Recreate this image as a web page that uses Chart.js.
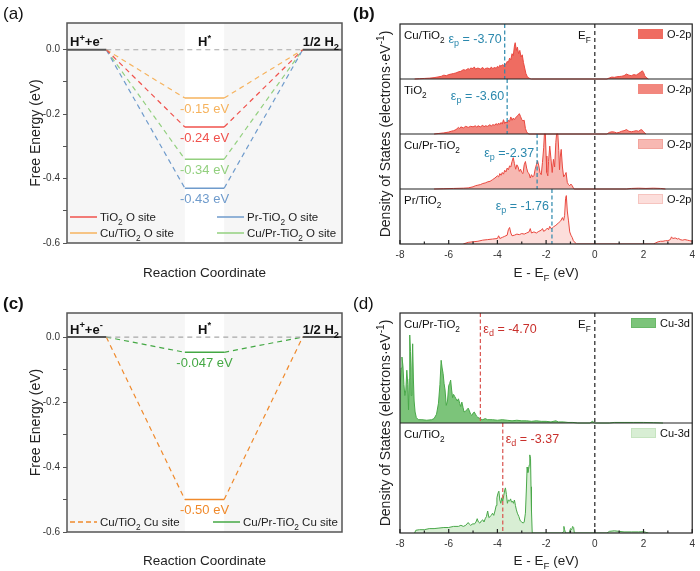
<!DOCTYPE html>
<html>
<head>
<meta charset="utf-8">
<script src="https://cdn.jsdelivr.net/npm/chart.js@4.4.1/dist/chart.umd.min.js"></script>
<style>
html, body { margin: 0; padding: 0; background: #fff; }
#fig { position: relative; width: 700px; height: 571px; overflow: hidden; }
#fig canvas { position: absolute; }
</style>
</head>
<body>
<div id="fig">
  <canvas id="panelA" width="350" height="290" style="left:0;top:0"></canvas>
  <canvas id="panelB" width="350" height="290" style="left:350px;top:0"></canvas>
  <canvas id="panelC" width="350" height="281" style="left:0;top:290px"></canvas>
  <canvas id="panelD" width="350" height="281" style="left:350px;top:290px"></canvas>
</div>
<script>
const FONT = "'Liberation Sans', Arial, Helvetica, sans-serif";

// ---- free energy diagrams (a) and (c)
const pathX = [0, 1, 3, 4, 6, 7];   // H+ + e-  |  H*  |  1/2 H2
const stateNames = ['H^{+}+e^{-}', 'H^{*}', '1/2 H_{2}'];
const freeEnergyTicks = [-0.6, -0.5, -0.4, -0.3, -0.2, -0.1, 0];

const oSiteNames = ['TiO_{2} O site', 'Cu/TiO_{2} O site', 'Pr-TiO_{2} O site', 'Cu/Pr-TiO_{2} O site'];
const oSiteDeltaG = [-0.24, -0.15, -0.43, -0.34];
const oSiteLabels = ['-0.24 eV', '-0.15 eV', '-0.43 eV', '-0.34 eV'];
const oSiteColors = ['#f0524d', '#f6b35e', '#6f9bcc', '#93d07f'];

const cuSiteNames = ['Cu/TiO_{2} Cu site', 'Cu/Pr-TiO_{2} Cu site'];
const cuSiteDeltaG = [-0.50, -0.047];
const cuSiteLabels = ['-0.50 eV', '-0.047 eV'];
const cuSiteColors = ['#f08a2c', '#44a844'];

// ---- DOS panels (b) and (d), [E - EF, DOS] in arbitrary units (0-10 per strip)
const dosTicks = [-8, -7, -6, -5, -4, -3, -2, -1, 0, 1, 2, 3, 4];

const dosCuTiO2_O2p = [[-7.4,0],[-7.2,0.05],[-7.0,0.1],[-6.8,0.15],[-6.6,0.25],[-6.4,0.4],[-6.3,0.5],[-6.2,0.7],[-6.1,0.6],[-6.0,0.8],
  [-5.9,0.9],[-5.8,1.0],[-5.7,1.1],[-5.6,1.3],[-5.5,1.4],[-5.4,1.7],[-5.3,1.6],[-5.2,1.9],[-5.15,1.7],[-5.1,2.0],[-5.0,1.9],
  [-4.95,2.2],[-4.9,1.8],[-4.8,2.0],[-4.7,1.8],[-4.6,2.1],[-4.55,1.7],[-4.5,1.9],[-4.4,2.0],[-4.3,1.8],[-4.25,2.2],[-4.2,1.9],
  [-4.1,2.1],[-4.05,1.9],[-4.0,2.3],[-3.95,2.1],[-3.9,2.5],[-3.85,2.3],[-3.8,2.6],[-3.75,2.4],[-3.7,2.8],[-3.65,2.6],[-3.6,3.2],
  [-3.55,3.0],[-3.5,3.8],[-3.45,3.5],[-3.4,4.6],[-3.35,4.2],[-3.3,6.0],[-3.27,6.6],[-3.22,5.2],[-3.18,5.8],[-3.13,4.6],[-3.08,5.2],
  [-3.03,4.0],[-2.98,4.4],[-2.93,3.0],[-2.88,2.0],[-2.83,1.0],[-2.78,0.5],[-2.72,0.2],[-2.65,0.05],[-2.6,0],
  [0.5,0],[0.6,0.2],[0.7,0.35],[0.8,0.3],[0.9,0.4],[1.0,0.45],[1.1,0.5],[1.2,0.6],[1.3,0.9],[1.4,0.7],[1.5,0.6],[1.6,0.8],
  [1.7,0.7],[1.8,1.0],[1.9,1.3],[1.95,1.5],[2.0,1.2],[2.05,0.6],[2.1,0.3],[2.2,0]];

const dosTiO2_O2p = [[-6.6,0],[-6.4,0.1],[-6.2,0.2],[-6.0,0.35],[-5.9,0.5],[-5.8,0.6],[-5.7,0.8],[-5.6,1.2],[-5.55,1.0],[-5.5,1.3],
  [-5.4,1.1],[-5.3,1.4],[-5.2,1.2],[-5.1,1.4],[-5.0,1.3],[-4.9,1.5],[-4.85,1.2],[-4.8,1.5],[-4.7,1.3],[-4.6,1.6],[-4.55,1.3],
  [-4.5,1.5],[-4.4,1.4],[-4.3,1.7],[-4.25,1.4],[-4.2,1.7],[-4.1,1.6],[-4.05,1.9],[-4.0,1.6],[-3.95,2.0],[-3.9,1.7],[-3.85,2.1],
  [-3.8,1.8],[-3.75,2.6],[-3.7,1.9],[-3.65,2.2],[-3.6,2.0],[-3.55,2.5],[-3.5,2.3],[-3.45,3.1],[-3.4,2.5],[-3.35,2.9],[-3.3,2.6],
  [-3.25,3.0],[-3.2,3.2],[-3.15,3.4],[-3.1,3.7],[-3.05,3.2],[-3.0,2.6],[-2.95,2.4],[-2.9,2.5],[-2.85,1.0],[-2.8,0.4],[-2.75,0.1],[-2.7,0],
  [0.5,0],[0.6,0.3],[0.7,0.4],[0.8,0.35],[0.9,0.2],[1.0,0.3],[1.1,0.5],[1.2,0.6],[1.3,0.8],[1.4,0.5],[1.5,0.4],[1.6,0.5],
  [1.7,0.6],[1.8,0.5],[1.9,0.8],[1.95,0.7],[2.0,0.4],[2.1,0]];

const dosCuPrTiO2_O2p = [[-6.6,0],[-6.2,0.05],[-5.8,0.1],[-5.4,0.15],[-5.2,0.2],[-5.0,0.4],[-4.9,0.6],[-4.8,0.7],[-4.7,0.8],[-4.6,1.0],
  [-4.5,1.1],[-4.4,1.3],[-4.3,1.4],[-4.2,1.7],[-4.1,2.0],[-4.0,2.4],[-3.95,2.2],[-3.9,2.8],[-3.85,2.5],[-3.8,3.0],[-3.75,2.7],
  [-3.7,3.4],[-3.65,3.1],[-3.6,3.8],[-3.55,3.5],[-3.5,4.2],[-3.45,4.0],[-3.4,5.0],[-3.35,5.7],[-3.3,4.6],[-3.25,3.6],[-3.2,4.4],
  [-3.15,4.0],[-3.1,3.2],[-3.05,3.6],[-3.0,3.0],[-2.95,2.8],[-2.9,4.4],[-2.85,5.0],[-2.8,3.8],[-2.75,3.0],[-2.7,2.8],[-2.65,2.0],
  [-2.6,2.6],[-2.55,2.2],[-2.5,2.4],[-2.45,3.6],[-2.4,4.4],[-2.35,5.1],[-2.3,4.2],[-2.25,3.0],[-2.2,2.6],[-2.15,4.8],[-2.1,7.5],
  [-2.07,10],[-2.03,10],[-2.0,6.0],[-1.97,3.0],[-1.93,2.4],[-1.9,5.0],[-1.85,7.8],[-1.8,5.5],[-1.75,3.0],[-1.7,5.4],[-1.65,4.0],
  [-1.6,8.5],[-1.57,10],[-1.52,10],[-1.48,7.0],[-1.45,3.5],[-1.42,5.8],[-1.38,7.2],[-1.33,4.0],[-1.28,2.2],[-1.22,2.6],[-1.18,3.0],
  [-1.13,1.2],[-1.08,0.8],[-1.03,0.6],[-0.98,0.9],[-0.93,0.6],[-0.88,0.2],[-0.85,0],
  [1.3,0],[1.5,0.1],[1.8,0.15],[2.1,0.1],[2.4,0.15],[2.7,0.1],[2.9,0]];

const dosPrTiO2_O2p = [[-5.4,0],[-5.2,0.3],[-5.0,0.4],[-4.8,0.5],[-4.6,0.7],[-4.4,0.8],[-4.2,0.9],[-4.0,1.0],[-3.95,1.5],[-3.9,1.0],
  [-3.8,1.2],[-3.7,1.4],[-3.6,1.6],[-3.55,2.6],[-3.5,3.0],[-3.45,2.0],[-3.4,1.5],[-3.3,1.6],[-3.2,1.8],[-3.1,1.7],[-3.0,1.9],
  [-2.9,1.8],[-2.8,2.0],[-2.7,2.2],[-2.65,2.8],[-2.6,2.0],[-2.5,2.2],[-2.4,2.0],[-2.3,2.3],[-2.2,2.5],[-2.15,2.8],[-2.1,2.3],
  [-2.0,2.6],[-1.95,2.9],[-1.9,2.6],[-1.85,3.2],[-1.8,2.8],[-1.75,2.9],[-1.7,3.1],[-1.6,3.4],[-1.5,3.8],[-1.4,4.2],[-1.33,4.8],
  [-1.28,4.3],[-1.24,5.2],[-1.2,8.3],[-1.17,8.8],[-1.13,6.0],[-1.08,4.2],[-1.03,2.2],[-0.98,1.6],[-0.93,1.2],[-0.88,0.6],[-0.8,0.2],[-0.75,0],
  [2.4,0],[2.5,0.2],[2.6,0.4],[2.7,0.5],[2.8,0.5],[2.9,0.6],[3.0,0.6],[3.1,0.8],[3.15,1.3],[3.2,1.0],[3.3,1.1],[3.4,0.9],
  [3.45,1.0],[3.5,0.8],[3.6,0.7],[3.7,0.8],[3.8,0.7],[3.9,0.6],[4.0,0.5]];

const dosCuPrTiO2_Cu3d = [[-8.0,3.0],[-7.95,5.0],[-7.92,6.0],[-7.88,5.2],[-7.84,3.5],[-7.8,2.5],[-7.76,3.0],[-7.72,4.8],[-7.68,3.5],
  [-7.65,1.2],[-7.62,4.0],[-7.6,8.0],[-7.57,6.5],[-7.54,2.5],[-7.51,5.0],[-7.48,7.2],[-7.45,4.0],[-7.42,2.0],[-7.38,1.0],[-7.33,0.5],
  [-7.25,0.3],[-7.1,0.3],[-6.9,0.25],[-6.7,0.3],[-6.6,0.4],[-6.5,0.8],[-6.42,1.8],[-6.36,3.5],[-6.31,5.7],[-6.27,5.0],[-6.23,4.5],
  [-6.19,3.6],[-6.15,3.0],[-6.1,1.6],[-6.05,2.0],[-6.0,3.4],[-5.96,3.6],[-5.92,3.9],[-5.88,3.0],[-5.84,2.3],[-5.8,2.6],[-5.75,2.4],
  [-5.7,2.2],[-5.65,2.0],[-5.6,2.2],[-5.55,1.8],[-5.51,1.5],[-5.46,1.9],[-5.41,1.4],[-5.37,1.0],[-5.3,1.1],[-5.25,1.2],[-5.2,1.35],
  [-5.15,1.1],[-5.1,0.8],[-5.05,0.7],[-5.0,0.9],[-4.95,1.0],[-4.9,0.8],[-4.85,0.6],[-4.8,0.5],[-4.75,0.45],[-4.7,0.35],[-4.6,0.3],
  [-4.5,0.4],[-4.4,0.3],[-4.2,0.3],[-4.0,0.25],[-3.8,0.3],[-3.6,0.25],[-3.4,0.2],[-3.2,0.25],[-3.0,0.2],[-2.8,0.2],[-2.6,0.15],
  [-2.4,0.2],[-2.2,0.15],[-2.0,0.15],[-1.8,0.1],[-1.6,0.2],[-1.5,0.1],[-1.3,0.1],[-1.1,0.05],[-0.9,0.05],[-0.7,0],[-0.2,0],
  [-0.1,0.15],[0.0,0],[0.6,0],[0.8,0.05],[1.2,0.05],[1.6,0.05],[2.0,0.05],[2.4,0.03],[2.8,0]];

const dosCuTiO2_Cu3d = [[-7.4,0],[-7.35,0.25],[-7.2,0.3],[-7.0,0.3],[-6.8,0.4],[-6.6,0.4],[-6.4,0.45],[-6.2,0.5],[-6.0,0.5],[-5.8,0.6],
  [-5.6,0.6],[-5.5,0.7],[-5.4,0.6],[-5.3,0.7],[-5.2,0.95],[-5.15,0.8],[-5.1,0.7],[-5.0,0.85],[-4.95,0.8],[-4.88,1.0],[-4.83,1.3],
  [-4.78,1.0],[-4.72,0.9],[-4.66,1.1],[-4.6,1.2],[-4.55,1.0],[-4.5,1.3],[-4.45,1.5],[-4.4,2.0],[-4.35,1.4],[-4.3,1.5],[-4.25,1.6],
  [-4.2,1.8],[-4.15,1.6],[-4.1,2.0],[-4.05,2.5],[-4.02,3.2],[-3.98,3.6],[-3.94,3.8],[-3.9,3.0],[-3.86,2.7],[-3.82,3.2],[-3.78,2.9],
  [-3.74,3.4],[-3.7,3.9],[-3.67,4.1],[-3.63,3.5],[-3.59,2.7],[-3.55,3.0],[-3.5,2.9],[-3.46,3.1],[-3.42,2.8],[-3.38,2.9],[-3.34,2.7],
  [-3.3,3.0],[-3.26,2.5],[-3.22,2.1],[-3.18,1.8],[-3.12,1.5],[-3.06,1.1],[-3.0,1.0],[-2.94,0.9],[-2.9,1.0],[-2.85,1.8],[-2.81,4.0],
  [-2.78,6.0],[-2.75,5.5],[-2.72,5.8],[-2.69,6.2],[-2.67,7.1],[-2.64,6.8],[-2.62,4.2],[-2.6,2.0],[-2.57,0],
  [-1.35,0],[-1.3,0.1],[-1.27,0.6],[-1.24,0.3],[-1.2,0],[-1.05,0],[-1.0,0.4],[-0.95,0.3],[-0.91,0.6],[-0.87,0.5],[-0.84,0],
  [0.5,0],[0.6,0.15],[0.8,0.2],[1.0,0.15],[1.2,0.1],[1.5,0.1],[1.8,0.1],[2.0,0.12],[2.2,0]];

const dosNamesB = ['Cu/TiO_{2}', 'TiO_{2}', 'Cu/Pr-TiO_{2}', 'Pr/TiO_{2}'];
const pBandCenter = [-3.70, -3.60, -2.37, -1.76];
const pBandLabels = ['ε_{p} = -3.70', 'ε_{p} = -3.60', 'ε_{p} =-2.37', 'ε_{p} = -1.76'];
const dosNamesD = ['Cu/Pr-TiO_{2}', 'Cu/TiO_{2}'];
const dBandLine = [-4.70, -3.78];
const dBandLabels = ['ε_{d} = -4.70', 'ε_{d} = -3.37'];

Chart.defaults.font.family = FONT;

// text with _{sub} and ^{sup} parts
function parseRich(str) {
  const parts = [];
  const re = /([_^])\{([^}]*)\}/g;
  let last = 0, m;
  while ((m = re.exec(str))) {
    if (m.index > last) parts.push({ t: str.slice(last, m.index), k: '' });
    parts.push({ t: m[2], k: m[1] });
    last = re.lastIndex;
  }
  if (last < str.length) parts.push({ t: str.slice(last), k: '' });
  return parts;
}

function drawRich(ctx, str, x, y, o) {
  const size = o.size || 12;
  const weight = o.weight || 'normal';
  const parts = parseRich(str);
  const fontFor = k => `${weight} ${k ? size * 0.72 : size}px ${FONT}`;
  let w = 0;
  parts.forEach(p => { ctx.font = fontFor(p.k); p.w = ctx.measureText(p.t).width; w += p.w; });
  ctx.save();
  ctx.translate(x, y);
  if (o.rotate) ctx.rotate(o.rotate);
  let cx = o.align === 'center' ? -w / 2 : o.align === 'right' ? -w : 0;
  ctx.fillStyle = o.color || '#222';
  ctx.textAlign = 'left';
  ctx.textBaseline = 'alphabetic';
  const base = size * 0.36;
  parts.forEach(p => {
    ctx.font = fontFor(p.k);
    const dy = p.k === '_' ? size * 0.3 : p.k === '^' ? -size * 0.42 : 0;
    ctx.fillText(p.t, cx, base + dy);
    cx += p.w;
  });
  ctx.restore();
}

function hline(ctx, x1, x2, y, color, width, dash) {
  ctx.save();
  ctx.strokeStyle = color;
  ctx.lineWidth = width;
  ctx.setLineDash(dash || []);
  ctx.beginPath();
  ctx.moveTo(x1, y);
  ctx.lineTo(x2, y);
  ctx.stroke();
  ctx.restore();
}

function vline(ctx, x, y1, y2, color, width, dash) {
  ctx.save();
  ctx.strokeStyle = color;
  ctx.lineWidth = width;
  ctx.setLineDash(dash || []);
  ctx.beginPath();
  ctx.moveTo(x, y1);
  ctx.lineTo(x, y2);
  ctx.stroke();
  ctx.restore();
}

const isEdge = c => c.p0DataIndex === 0 || c.p0DataIndex === 4;

function makeEnergyChart(id, o) {
  const datasets = [{
    data: pathX.map(x => [x, 0]),
    borderColor: '#555', borderWidth: 2, pointRadius: 0, fill: false,
    segment: {
      borderColor: c => isEdge(c) ? '#555' : '#a8a8a8',
      borderDash: c => isEdge(c) ? [] : [5, 4],
      borderWidth: c => isEdge(c) ? 2 : 1.2
    }
  }];
  o.values.forEach((v, i) => {
    datasets.push({
      data: [[pathX[1], 0], [pathX[2], v], [pathX[3], v], [pathX[4], 0]],
      borderColor: o.colors[i], borderWidth: 1.2, pointRadius: 0, fill: false,
      segment: {
        borderDash: c => c.p0DataIndex === 1 ? [] : [5, 4],
        borderWidth: c => c.p0DataIndex === 1 ? 1.6 : 1.2
      }
    });
  });

  return new Chart(document.getElementById(id), {
    type: 'line',
    data: { datasets },
    options: {
      responsive: false,
      animation: false,
      devicePixelRatio: 1,
      layout: { padding: { left: 0, right: 8, top: 23, bottom: 0 } },
      plugins: { legend: { display: false }, tooltip: { enabled: false } },
      scales: {
        x: {
          type: 'linear', min: pathX[0], max: pathX[pathX.length - 1],
          ticks: { display: false },
          grid: { display: false, drawTicks: false },
          border: { display: false },
          afterFit: s => { s.height = o.xAxisH; }
        },
        y: {
          type: 'linear', min: -0.6, max: o.top,
          afterBuildTicks: s => { s.ticks = freeEnergyTicks.map(v => ({ value: v })); },
          afterFit: s => { s.width = 67; },
          ticks: {
            callback: v => Math.round(v * 10) % 2 === 0 ? v.toFixed(1) : '',
            font: { size: 10 }, color: '#333', padding: 3
          },
          grid: { drawOnChartArea: false, tickLength: 4, color: '#555' },
          border: { display: false }
        }
      }
    },
    plugins: [{
      id: 'energyDeco',
      beforeDraw(chart) {
        const { ctx, chartArea: a, scales: { x } } = chart;
        ctx.save();
        ctx.fillStyle = '#f6f6f6';
        ctx.fillRect(a.left, a.top, a.width, a.height);
        ctx.fillStyle = '#ffffff';
        const x1 = x.getPixelForValue(pathX[2]), x2 = x.getPixelForValue(pathX[3]);
        ctx.fillRect(x1, a.top, x2 - x1, a.height);
        ctx.restore();
      },
      afterDraw(chart) {
        const { ctx, chartArea: a, scales: { x, y } } = chart;
        ctx.save();
        ctx.strokeStyle = '#555';
        ctx.lineWidth = 1.5;
        ctx.strokeRect(a.left, a.top, a.width, a.height);
        ctx.restore();

        const sy = y.getPixelForValue(0) - 8;
        drawRich(ctx, stateNames[0], a.left + 3, sy, { size: 13, weight: 'bold', color: '#111' });
        drawRich(ctx, stateNames[1], (x.getPixelForValue(pathX[2]) + x.getPixelForValue(pathX[3])) / 2, sy,
          { size: 13, weight: 'bold', color: '#111', align: 'center' });
        drawRich(ctx, stateNames[2], a.right - 3, sy, { size: 13, weight: 'bold', color: '#111', align: 'right' });

        const mid = (x.getPixelForValue(pathX[2]) + x.getPixelForValue(pathX[3])) / 2;
        o.values.forEach((v, i) => {
          drawRich(ctx, o.labels[i], mid, y.getPixelForValue(v) + 10, { size: 13, color: o.colors[i], align: 'center' });
        });

        o.legend.forEach(e => {
          hline(ctx, e.x, e.x + 27, e.y, o.colors[e.i], 1.5, e.dash);
          drawRich(ctx, o.names[e.i], e.x + 30, e.y, { size: 11.5, color: '#222' });
        });

        drawRich(ctx, o.panel, 3, 13, { size: 17, weight: o.panelWeight, color: '#111' });
        drawRich(ctx, 'Free Energy (eV)', 35, (a.top + a.bottom) / 2, { size: 14, color: '#222', align: 'center', rotate: -Math.PI / 2 });
        drawRich(ctx, 'Reaction Coordinate', (a.left + a.right) / 2, o.xTitleY, { size: 13.5, color: '#222', align: 'center' });
      }
    }]
  });
}

function makeDosChart(id, o) {
  const n = o.series.length;
  const scales = {
    x: {
      type: 'linear', min: -8, max: 4,
      afterBuildTicks: s => { s.ticks = dosTicks.map(v => ({ value: v })); },
      afterFit: s => { s.height = o.xAxisH; },
      ticks: { callback: v => v % 2 === 0 ? String(v) : '', font: { size: 10 }, color: '#333', padding: 5, maxRotation: 0, autoSkip: false },
      grid: { display: false, drawTicks: false },
      border: { display: false }
    }
  };
  // one hidden axis per strip: value 0..10 of strip k lands in its own horizontal band
  for (let k = 0; k < n; k++) {
    scales['y' + k] = { type: 'linear', display: false, min: -(n - 1 - k) * 10, max: (k + 1) * 10 };
  }
  const datasets = o.series.map((s, k) => ({
    data: s, yAxisID: 'y' + k,
    borderColor: o.lineColor, borderWidth: 1, backgroundColor: o.fills[k],
    fill: 'origin', pointRadius: 0, tension: 0
  }));

  return new Chart(document.getElementById(id), {
    type: 'line',
    data: { datasets },
    options: {
      responsive: false,
      animation: false,
      devicePixelRatio: 1,
      layout: { padding: { left: 50, right: 5, top: o.top, bottom: 0 } },
      plugins: { legend: { display: false }, tooltip: { enabled: false } },
      scales
    },
    plugins: [{
      id: 'dosDeco',
      afterDraw(chart) {
        const { ctx, chartArea: a, scales: sc } = chart;
        const x = sc.x;
        const x0 = x.getPixelForValue(0);

        for (let k = 0; k < n; k++) {
          const yk = sc['y' + k];
          const top = yk.getPixelForValue(10), bot = yk.getPixelForValue(0);
          const xc = x.getPixelForValue(o.centers[k]);
          vline(ctx, xc, top, bot, o.centerColor, 1.2, [4, 2.5]);
          drawRich(ctx, o.names[k], a.left + 4, top + 11, { size: 11.5, color: '#111' });
          if (o.centerAlign === 'right') {
            drawRich(ctx, o.centerLabels[k], xc - 3, top + o.centerDy[k], { size: 12.5, color: o.centerColor, align: 'right' });
          } else {
            drawRich(ctx, o.centerLabels[k], xc + 3, top + o.centerDy[k], { size: 12.5, color: o.centerTextColor, align: 'left' });
          }
          // legend swatch
          ctx.save();
          ctx.fillStyle = o.fills[k];
          ctx.fillRect(o.boxX, top + 5, 25, 10);
          ctx.strokeStyle = o.boxStroke[k];
          ctx.lineWidth = 1;
          ctx.strokeRect(o.boxX + 0.5, top + 5.5, 24, 9);
          ctx.restore();
          drawRich(ctx, o.orbital, o.boxX + 29, top + 10.5, { size: 11, color: '#111' });
          if (k > 0) hline(ctx, a.left, a.right, top, '#222', 1.2);
        }

        vline(ctx, x0, a.top, a.bottom, '#222', 1.2, [4, 3]);
        drawRich(ctx, 'E_{F}', x0 - 4, a.top + 11, { size: 11.5, color: '#111', align: 'right' });

        ctx.save();
        ctx.strokeStyle = '#222';
        ctx.lineWidth = 1.2;
        ctx.strokeRect(a.left, a.top, a.width, a.height);
        ctx.beginPath();
        dosTicks.forEach(t => {
          const px = x.getPixelForValue(t);
          ctx.moveTo(px, a.bottom);
          ctx.lineTo(px, a.bottom - (t % 2 === 0 ? 4 : 2.5));
        });
        ctx.stroke();
        ctx.restore();

        drawRich(ctx, o.panel, 3, 13, { size: 17, weight: o.panelWeight, color: '#111' });
        drawRich(ctx, 'Density of States (electrons·eV^{-1})', 35, (a.top + a.bottom) / 2,
          { size: 14, color: '#222', align: 'center', rotate: -Math.PI / 2 });
        drawRich(ctx, 'E - E_{F} (eV)', (a.left + a.right) / 2, o.xTitleY, { size: 13.5, color: '#222', align: 'center' });
      }
    }]
  });
}

makeEnergyChart('panelA', {
  values: oSiteDeltaG, labels: oSiteLabels, colors: oSiteColors, names: oSiteNames,
  top: 0.083, xAxisH: 47, xTitleY: 272, panel: '(a)', panelWeight: 'normal',
  legend: [
    { i: 0, x: 70, y: 217 }, { i: 1, x: 70, y: 233 },
    { i: 2, x: 217, y: 217 }, { i: 3, x: 217, y: 233 }
  ]
});

makeEnergyChart('panelC', {
  values: cuSiteDeltaG, labels: cuSiteLabels, colors: cuSiteColors, names: cuSiteNames,
  top: 0.074, xAxisH: 39, xTitleY: 270, panel: '(c)', panelWeight: 'bold',
  legend: [{ i: 0, x: 70, y: 232, dash: [5, 3] }, { i: 1, x: 213, y: 232 }]
});

makeDosChart('panelB', {
  series: [dosCuTiO2_O2p, dosTiO2_O2p, dosCuPrTiO2_O2p, dosPrTiO2_O2p],
  names: dosNamesB, centers: pBandCenter, centerLabels: pBandLabels, centerDy: [14, 16, 18, 16],
  centerAlign: 'right', centerColor: '#2b88ad', centerTextColor: '#2b88ad',
  lineColor: '#e9483f', fills: ['#ef6c61', '#f2877e', '#f7b8b2', '#fcdedb'],
  boxStroke: ['#ef6c61', '#f2877e', '#f2a49d', '#f6c4bf'],
  boxX: 288, orbital: 'O-2p', top: 24, xAxisH: 46, xTitleY: 272, panel: '(b)', panelWeight: 'bold'
});

makeDosChart('panelD', {
  series: [dosCuPrTiO2_Cu3d, dosCuTiO2_Cu3d],
  names: dosNamesD, centers: dBandLine, centerLabels: dBandLabels, centerDy: [15, 15],
  centerAlign: 'left', centerColor: '#d9534f', centerTextColor: '#c9302c',
  lineColor: '#4aa84a', fills: ['#7cc47a', '#d8eed4'],
  boxStroke: ['#6ab868', '#c6e4c0'],
  boxX: 281, orbital: 'Cu-3d', top: 23, xAxisH: 38, xTitleY: 270, panel: '(d)', panelWeight: 'normal'
});
</script>
</body>
</html>
